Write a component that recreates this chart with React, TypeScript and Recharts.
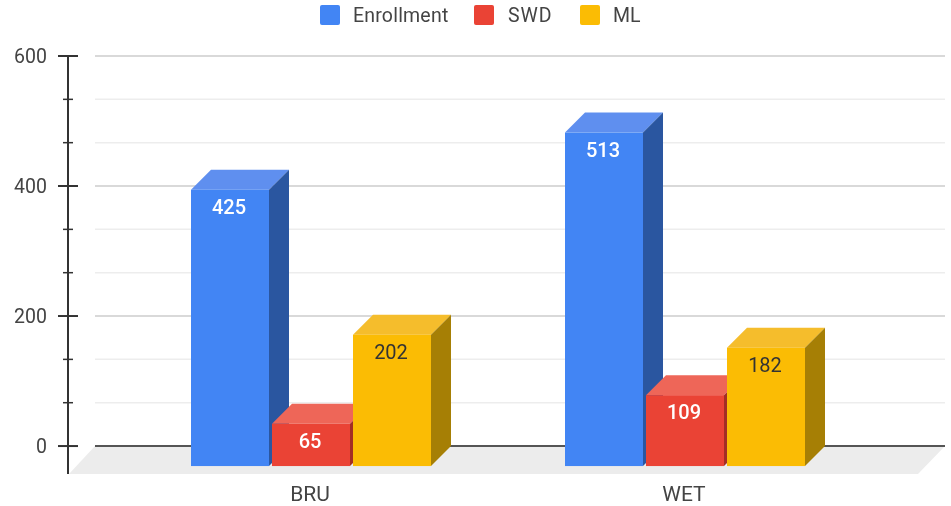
import { Bar, BarChart, LabelList, Legend, ReferenceArea, ReferenceLine, XAxis, YAxis } from "recharts";

const schools = ["BRU", "WET"];
const enrollment = [425, 513];
const swd = [65, 109];
const ml = [202, 182];

const majorTicks = [0, 200, 400, 600];
const minorTicks = [66.67, 133.33, 266.67, 333.33, 466.67, 533.33];

const data = schools.map((name, i) => ({ name, Enrollment: enrollment[i], SWD: swd[i], ML: ml[i] }));

const FONT = "Roboto, sans-serif";
// how far the front face of a bar sits in front of the gridlines
const DEPTH = 20;
// the x axis padding keeps bands inside the plot, the floor has to undo it
const PAD_LEFT = 56;
const PAD_RIGHT = 73;

function box3d(front: string, top: string, side: string) {
  return function Box(props: any) {
    const { x, y, width, height } = props;
    if (!height) return null;
    const fy = y + DEPTH;
    const r = x + width;
    const b = fy + height;
    return (
      <g>
        <polygon points={`${x},${fy} ${x + DEPTH},${fy - DEPTH} ${r + DEPTH},${fy - DEPTH} ${r},${fy}`} fill={top} />
        <polygon points={`${r},${fy} ${r + DEPTH},${fy - DEPTH} ${r + DEPTH},${b - DEPTH} ${r},${b}`} fill={side} />
        <rect x={x} y={fy} width={width} height={height} fill={front} />
      </g>
    );
  };
}

function barLabel(fill: string, weight: number) {
  return function Label(props: any) {
    const { x, y, width, value } = props;
    return (
      <text
        x={x + width / 2 - 1}
        y={y + DEPTH + 17}
        dy="0.36em"
        textAnchor="middle"
        fill={fill}
        fontFamily={FONT}
        fontSize={20}
        fontWeight={weight}
      >
        {value}
      </text>
    );
  };
}

function AxisTick(props: any) {
  const { x, y, payload } = props;
  const major = majorTicks.includes(payload.value);
  const half = major ? 10 : 5;
  // recharts hands over x already moved left by tick size + margin
  const cx = x + 8;
  return (
    <g>
      <line x1={cx - half} x2={cx + half} y1={y} y2={y} stroke="#333" strokeWidth={major ? 2 : 1.5} />
      {major && (
        <text x={cx - 21} y={y} dy="0.36em" textAnchor="end" fill="#444" fontFamily={FONT} fontSize={19.5}>
          {payload.value}
        </text>
      )}
    </g>
  );
}

function CategoryTick(props: any) {
  const { x, y, payload } = props;
  return (
    <text x={x - 1} y={y} dy="0.71em" textAnchor="middle" fill="#444" fontFamily={FONT} fontSize={21}>
      {payload.value}
    </text>
  );
}

function Floor(props: any) {
  const { y, height } = props;
  const left = props.x - PAD_LEFT;
  const right = props.x + props.width + PAD_RIGHT;
  return (
    <polygon
      points={`${left + 27},${y} ${right},${y} ${right - 27},${y + height} ${left + 1},${y + height}`}
      fill="#ECECEC"
    />
  );
}

function gridLine(stroke: string, strokeWidth: number) {
  return function GridLine(props: any) {
    return (
      <line x1={props.x1 + 27} x2={props.x2} y1={props.y1} y2={props.y2} stroke={stroke} strokeWidth={strokeWidth} />
    );
  };
}

function LegendRow(props: any) {
  const lefts: Record<string, number> = { Enrollment: 320, SWD: 474, ML: 580 };
  const spacing: Record<string, number> = { Enrollment: 0.2, SWD: 0.9, ML: 0 };
  return (
    <div style={{ position: "relative", height: 30 }}>
      {props.payload.map((item: any) => (
        <div key={item.value}>
          <span
            style={{
              position: "absolute",
              left: lefts[item.value],
              top: 5,
              width: 20,
              height: 20,
              borderRadius: 2,
              background: item.color,
            }}
          />
          <span
            style={{
              position: "absolute",
              left: lefts[item.value] + 33 + (item.value === "SWD" ? 1 : 0),
              top: 4,
              fontFamily: FONT,
              fontSize: 19.5,
              lineHeight: "24px",
              letterSpacing: spacing[item.value],
              color: "#444",
            }}
          >
            {item.value}
          </span>
        </div>
      ))}
    </div>
  );
}

export default function App() {
  return (
    <div
      style={{
        position: "absolute",
        left: 0,
        top: 0,
        width: 951,
        height: 506,
        background: "#fff",
        filter: "blur(0.4px)",
      }}
    >
      <BarChart
        width={951}
        height={506}
        data={data}
        barSize={78}
        barGap={3}
        margin={{ top: 26, right: 6, bottom: 0, left: 0 }}
      >
        <Legend verticalAlign="top" height={30} content={<LegendRow />} wrapperStyle={{ left: 0, top: 0, width: 951 }} />
        <ReferenceArea y1={-43} y2={0} shape={<Floor />} zIndex={-100} />
        {minorTicks.map((t) => (
          <ReferenceLine key={t} y={t} shape={gridLine("#EDEDED", 1.5)} zIndex={-90} />
        ))}
        {majorTicks.slice(1).map((t) => (
          <ReferenceLine key={t} y={t} shape={gridLine("#D9D9D9", 2)} zIndex={-90} />
        ))}
        <ReferenceLine y={0} shape={gridLine("#555", 2)} zIndex={-90} />
        <XAxis
          dataKey="name"
          height={32}
          padding={{ left: PAD_LEFT, right: PAD_RIGHT }}
          axisLine={false}
          tickLine={false}
          tickMargin={6}
          tick={<CategoryTick />}
        />
        <YAxis
          width={68}
          domain={[-43, 600]}
          ticks={[...majorTicks, ...minorTicks]}
          interval={0}
          axisLine={{ stroke: "#333", strokeWidth: 2 }}
          tickLine={false}
          tick={<AxisTick />}
        />
        <Bar dataKey="Enrollment" fill="#4285F4" shape={box3d("#4285F4", "#5F8FEF", "#2A56A0")} isAnimationActive={false}>
          <LabelList dataKey="Enrollment" content={barLabel("#fff", 500)} />
        </Bar>
        <Bar dataKey="SWD" fill="#EA4335" shape={box3d("#EA4335", "#EE6658", "#A32E25")} isAnimationActive={false}>
          <LabelList dataKey="SWD" content={barLabel("#fff", 500)} />
        </Bar>
        <Bar dataKey="ML" fill="#FBBC04" shape={box3d("#FBBC04", "#F5BD2C", "#A67F05")} isAnimationActive={false}>
          <LabelList dataKey="ML" content={barLabel("#333", 400)} />
        </Bar>
      </BarChart>
    </div>
  );
}
